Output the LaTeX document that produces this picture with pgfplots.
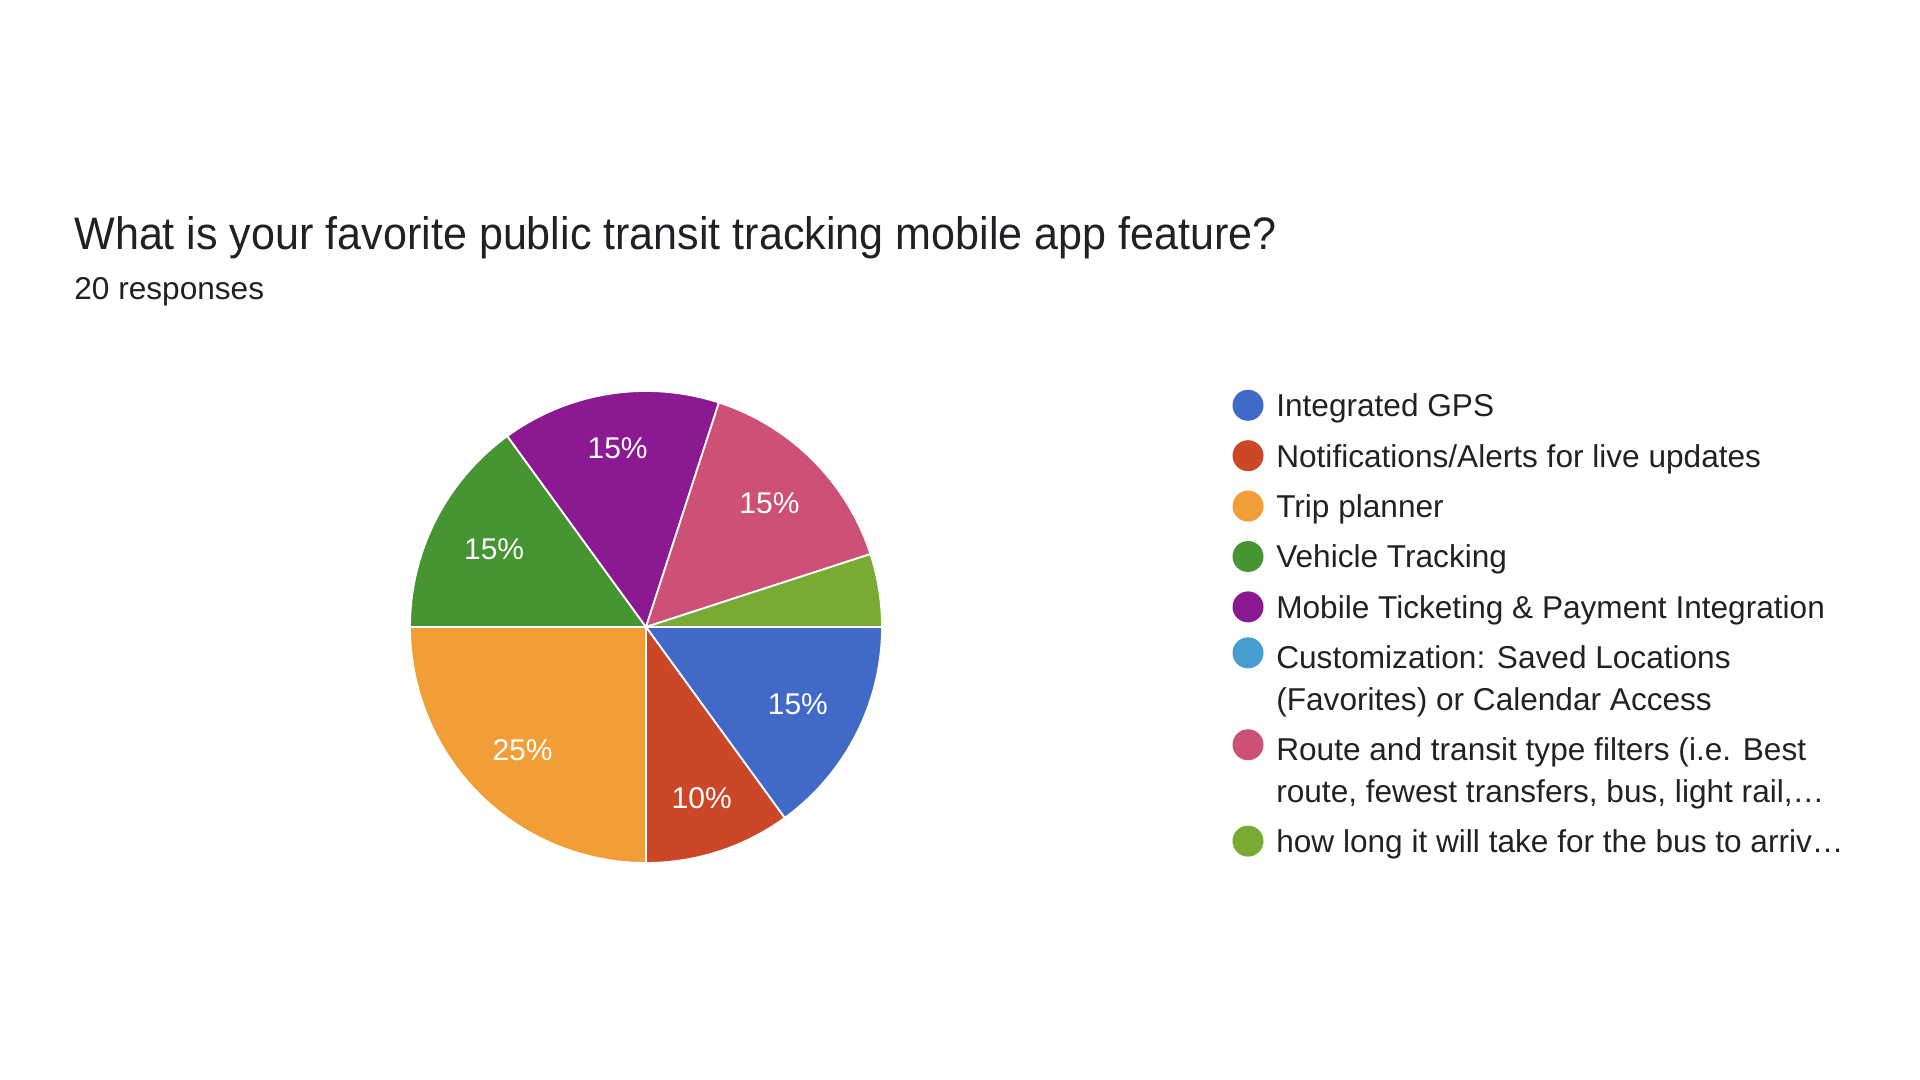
\documentclass[border=0pt]{standalone}
\usepackage{fontspec}
\setmainfont{Liberation Sans}
\usepackage{pgfplots}
\usepackage{pgfplotstable}
\pgfplotsset{compat=1.18}

\definecolor{cGPS}{HTML}{4169C8}
\definecolor{cNotif}{HTML}{CC4628}
\definecolor{cTrip}{HTML}{F19E38}
\definecolor{cVeh}{HTML}{469432}
\definecolor{cMob}{HTML}{8B1991}
\definecolor{cCust}{HTML}{469DCF}
\definecolor{cRoute}{HTML}{CD5077}
\definecolor{cLong}{HTML}{79AA33}
\definecolor{titlegray}{HTML}{202124}
\definecolor{textgray}{HTML}{222222}

% value = share of the 20 responses, in percent
\pgfplotstableread[col sep=comma]{
value,color
15,cGPS
10,cNotif
25,cTrip
15,cVeh
15,cMob
0,cCust
15,cRoute
5,cLong
}\piedata

\newcommand\labelfont{\fontsize{15}{18}\selectfont}
\tikzset{
  legentry/.style={text height=14pt, text depth=11.2pt},
  legfirst/.style={text height=14pt, text depth=6.75pt},
}

\begin{document}
\begin{tikzpicture}
\path[use as bounding box] (0pt,0pt) rectangle (960pt,540pt);

\node[anchor=base west, inner sep=0pt, text=titlegray, xscale=0.945,
      font=\fontsize{22.8}{27}\selectfont] at (37pt,415pt)
  {What is your favorite public transit tracking mobile app feature?};
\node[anchor=base west, inner sep=0pt, text=titlegray,
      font=\fontsize{15.8}{18}\selectfont] at (37pt,390pt)
  {20 responses};

\begin{axis}[
  at={(323pt,226.5pt)}, anchor=center,
  scale only axis, width=236pt, height=236pt,
  xmin=-1, xmax=1, ymin=-1, ymax=1,
  hide axis, clip=false,
  legend cell align=left,
  legend image code/.code={%
    \path[draw=none, fill=none] (0pt,0pt) -- (15.5pt,0pt);
    \fill[#1, draw=none, overlay] (7.75pt,4.3pt) circle[radius=7.75pt];},
  legend style={
    at={(1.7426,1.00487)}, anchor=north west,
    draw=none, fill=none, inner sep=0pt, outer sep=0pt,
    column sep=6.4pt, row sep=0pt,
    nodes={inner sep=0pt, text=textgray},
    font=\fontsize{15.8}{20.8}\selectfont,
  },
]
\pgfplotstablegetrowsof{\piedata}
\pgfmathtruncatemacro\nrows{\pgfplotsretval-1}
\def\pcum{0}
\pgfplotsforeachungrouped \i in {0,...,\nrows}{%
  \pgfplotstablegetelem{\i}{value}\of\piedata \let\pval\pgfplotsretval
  \pgfplotstablegetelem{\i}{color}\of\piedata \let\pcol\pgfplotsretval
  \pgfmathsetmacro\pstart{-\pcum*3.6}%
  \pgfmathsetmacro\pend{-(\pcum+\pval)*3.6}%
  \pgfmathsetmacro\pmid{(\pstart+\pend)/2}%
  \pgfmathsetmacro\pcum{\pcum+\pval}%
  \ifdim\pval pt>0pt
    \edef\ptemp{\noexpand\fill[\pcol, draw=white, line width=0.9pt, line join=round]
      (axis cs:0,0) -- (axis cs:{cos(\pstart)},{sin(\pstart)})
      arc[start angle=\pstart, end angle=\pend, radius=118pt] -- cycle;}%
    \ptemp
  \fi
  \ifdim\pval pt>9pt
    \pgfmathsetmacro\plr{0.71+0.06*sin(\pmid)*sin(\pmid)}%
    \edef\ptemp{\noexpand\node[text=white, inner sep=0pt, font=\noexpand\labelfont]
      at (axis cs:{\plr*cos(\pmid)},{\plr*sin(\pmid)}) {\pval\noexpand\%};}%
    \ptemp
  \fi
}

\addlegendimage{cGPS}
\addlegendentry[legentry]{Integrated GPS}
\addlegendimage{cNotif}
\addlegendentry[legentry]{Notifications/Alerts for live updates}
\addlegendimage{cTrip}
\addlegendentry[legentry]{Trip planner}
\addlegendimage{cVeh}
\addlegendentry[legentry]{Vehicle Tracking}
\addlegendimage{cMob}
\addlegendentry[legentry]{Mobile Ticketing \& Payment Integration}
\addlegendimage{cCust}
\addlegendentry[legfirst]{Customization: Saved Locations}
\addlegendimage{empty legend}
\addlegendentry[legentry]{(Favorites) or Calendar Access}
\addlegendimage{cRoute}
\addlegendentry[legfirst]{Route and transit type filters (i.e. Best}
\addlegendimage{empty legend}
\addlegendentry[legentry]{route, fewest transfers, bus, light rail,…}
\addlegendimage{cLong}
\addlegendentry[legentry]{how long it will take for the bus to arriv…}
\end{axis}
\end{tikzpicture}
\end{document}
